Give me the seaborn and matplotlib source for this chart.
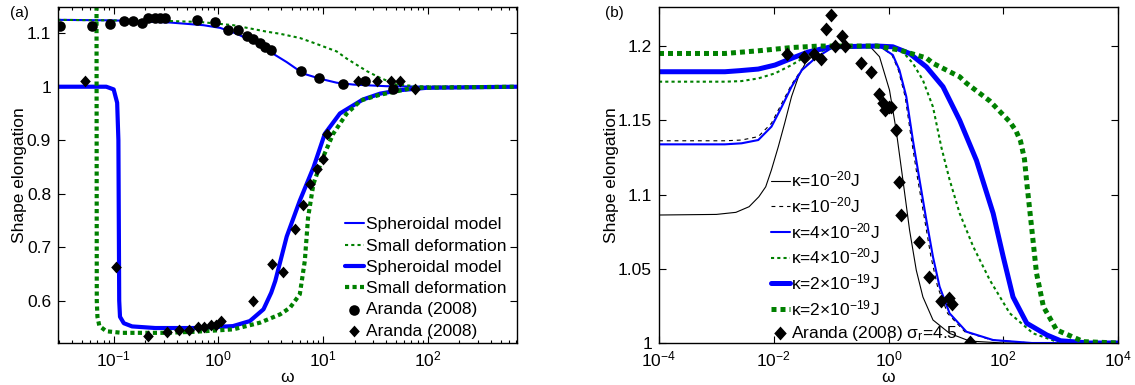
import matplotlib
matplotlib.use('Agg')
import matplotlib.pyplot as plt
import seaborn as sns
from matplotlib.ticker import FuncFormatter, NullLocator, LogLocator

# ---------------- panel (a) data ----------------
circ_w = [0.031, 0.062, 0.093, 0.125, 0.154, 0.185, 0.215, 0.248, 0.277, 0.31,
          0.62, 0.93, 1.25, 1.55, 1.87, 2.16, 2.5, 2.79, 3.16, 6.1, 9.2, 15.6, 25.0, 47.0]
circ_y = [1.113, 1.113, 1.117, 1.1225, 1.1225, 1.119, 1.129, 1.129, 1.129, 1.129,
          1.124, 1.121, 1.106, 1.106, 1.095, 1.090, 1.0825, 1.074, 1.068, 1.029, 1.017, 1.0044, 1.0106, 0.996]

diam_w = [0.0534, 0.105, 0.215, 0.321, 0.422, 0.528, 0.644, 0.734, 0.851, 0.95, 1.06,
          2.16, 3.24, 4.18, 5.45, 6.49, 7.51, 8.71, 9.93, 10.8, 21.8, 32.6, 44.5, 54.8, 75.6]
diam_y = [1.0106, 0.663, 0.534, 0.541, 0.5446, 0.545, 0.551, 0.551, 0.5545, 0.5545, 0.563,
          0.600, 0.668, 0.653, 0.735, 0.7795, 0.819, 0.846, 0.865, 0.912, 1.0106, 1.0106, 1.011, 1.011, 0.996]

sph_thin_w = [0.029, 0.1, 0.346, 0.72, 1.04, 1.5, 2.16, 3.13, 4.5, 6.49, 9.35, 13.5, 19.5, 40, 98]
sph_thin_y = [1.125, 1.124, 1.12, 1.115, 1.11, 1.099, 1.084, 1.065, 1.046, 1.0245, 1.015, 1.0075, 1.004, 1.001, 1.0]

sd_thin_w = [0.029, 0.316, 0.668, 1.39, 2.88, 3.88, 6.03, 8.13, 13.5, 17.0, 26.3, 34.7, 50.1, 85.1, 710]
sd_thin_y = [1.125, 1.123, 1.121, 1.115, 1.103, 1.099, 1.091, 1.082, 1.066, 1.052, 1.029, 1.017, 1.004, 1.0005, 1.0]

sph_thick_w = [0.029, 0.085, 0.10, 0.108, 0.111, 0.113, 0.115, 0.125, 0.15, 0.25, 0.6, 1.38, 2.0,
               2.7, 3.2, 3.5, 4.5, 6.0, 8.1, 10.4, 14.5, 24, 35, 54, 98, 710]
sph_thick_y = [1.0, 1.0, 0.995, 0.97, 0.9, 0.6, 0.57, 0.558, 0.552, 0.549, 0.549, 0.5526, 0.562,
               0.584, 0.615, 0.637, 0.72, 0.787, 0.849, 0.912, 0.95, 0.976, 0.987, 0.9935, 0.998, 1.0]

sd_thick_w = [0.0685, 0.069, 0.07, 0.073, 0.085, 0.12, 0.3, 0.6, 1.39, 2.5, 3.9, 4.84, 6.0, 6.7,
              7.2, 8.1, 9.7, 12.5, 16.8, 23, 35, 73, 710]
sd_thick_y = [1.3, 0.60, 0.57, 0.553, 0.543, 0.540, 0.540, 0.542, 0.5465, 0.559, 0.5746, 0.587, 0.612, 0.6745,
              0.7557, 0.8183, 0.862, 0.912, 0.9495, 0.9744, 0.985, 0.998, 1.0]

# ---------------- panel (b) data ----------------
k1_sph_w = [1e-4, 1e-3, 2.19e-3, 3.72e-3, 5.5e-3, 7.24e-3, 9.1e-3, 0.012, 0.0155, 0.0204, 0.0269,
            0.0355, 0.0525, 0.0794, 0.2, 0.468, 0.697, 1.04, 1.36, 1.78, 2.33, 3.05, 3.98, 5.96,
            11.6, 26, 100, 1e4]
k1_sph_y = [1.0862, 1.0866, 1.088, 1.0918, 1.0985, 1.1052, 1.1165, 1.1322, 1.148, 1.1659, 1.1793,
            1.1884, 1.195, 1.1985, 1.2, 1.2, 1.1928, 1.1704, 1.1434, 1.11, 1.076, 1.049, 1.031, 1.0155,
            1.0065, 1.0013, 1.0, 1.0]

k1_sd_w = [1e-4, 1.41e-3, 2.75e-3, 5.37e-3, 9.12e-3, 0.0138, 0.0204, 0.0309, 0.0525, 0.1, 0.697,
           1.15, 1.48, 1.95, 2.51, 3.24, 4.27, 5.5, 7.16, 10.7, 21.4, 63, 316, 1e4]
k1_sd_y = [1.1362, 1.1362, 1.1367, 1.139, 1.148, 1.1614, 1.174, 1.1845, 1.192, 1.1985, 1.2,
           1.194, 1.184, 1.166, 1.137, 1.11, 1.083, 1.058, 1.038, 1.02, 1.0076, 1.002, 1.0, 1.0]

k4_sph_w = [1e-4, 1.41e-3, 2.75e-3, 5.37e-3, 9.12e-3, 0.0138, 0.0204, 0.0309, 0.0525, 0.1, 0.697,
            1.19, 1.55, 2.04, 2.66, 3.47, 4.57, 5.96, 7.76, 11.6, 22.8, 66.7, 316, 1e4]
k4_sph_y = [1.1338, 1.1338, 1.1345, 1.1367, 1.1457, 1.1591, 1.1726, 1.1838, 1.1917, 1.1985, 1.2,
            1.194, 1.1838, 1.166, 1.1367, 1.11, 1.0828, 1.058, 1.038, 1.02, 1.0076, 1.002, 1.0, 1.0]

k4_sd_w = [1e-4, 1.41e-3, 2.75e-3, 5.37e-3, 0.0105, 0.0204, 0.0398, 0.1, 0.5, 1.19, 1.78, 2.66,
           3.98, 5.96, 8.32, 11.6, 17.4, 29.9, 58.3, 130, 331, 1000, 1e4]
k4_sd_y = [1.176, 1.176, 1.1764, 1.1782, 1.1816, 1.1872, 1.194, 1.1985, 1.2, 1.2, 1.196, 1.1884,
           1.177, 1.159, 1.132, 1.11, 1.0873, 1.065, 1.0424, 1.02, 1.0065, 1.0, 1.0]

k20_sph_w = [1e-4, 1.41e-3, 2.51e-3, 5.37e-3, 0.0105, 0.0204, 0.0398, 0.1, 0.631, 1.19, 2.33,
             4.57, 8.91, 17.4, 34.1, 66.7, 100, 148, 257, 575, 1000, 3162, 1e4]
k20_sph_y = [1.1827, 1.1827, 1.1834, 1.1845, 1.1872, 1.1917, 1.196, 1.1995, 1.2, 1.1995, 1.195,
             1.186, 1.1726, 1.15, 1.123, 1.0873, 1.058, 1.031, 1.0133, 1.0054, 1.0015, 1.0, 1.0]

k20_sd_w = [1e-4, 1.41e-3, 5.37e-3, 0.0204, 0.063, 0.631, 1.55, 4.57, 5.96, 17.4, 22.8, 58.3,
            130, 166, 200, 234, 257, 316, 380, 501, 851, 2512, 1e4]
k20_sd_y = [1.195, 1.195, 1.1968, 1.199, 1.2, 1.2, 1.1973, 1.192, 1.1884, 1.1793, 1.175, 1.163,
            1.149, 1.143, 1.136, 1.124, 1.108, 1.076, 1.047, 1.0245, 1.0088, 1.0009, 1.0]

ar_w = [0.0167, 0.0336, 0.0502, 0.0656, 0.0814, 0.100, 0.118, 0.155, 0.177, 0.333, 0.50, 0.672,
        0.795, 0.88, 1.04, 1.10, 1.36, 1.51, 1.67, 3.35, 5.07, 8.3, 11.3, 12.97, 26]
ar_y = [1.1946, 1.1928, 1.1946, 1.191, 1.2112, 1.2209, 1.2003, 1.2067, 1.2, 1.1888, 1.1825, 1.1678,
        1.1614, 1.157, 1.1591, 1.1591, 1.1434, 1.1086, 1.0862, 1.0682, 1.0444, 1.0285, 1.030, 1.0265, 1.0005]

legend_a = ['Spheroidal model', 'Small deformation', 'Spheroidal model', 'Small deformation',
            'Aranda (2008)', 'Aranda (2008)']
legend_b = ['κ=10$^{-20}$J', 'κ=10$^{-20}$J', 'κ=4×10$^{-20}$J', 'κ=4×10$^{-20}$J',
            'κ=2×10$^{-19}$J', 'κ=2×10$^{-19}$J', 'Aranda (2008) σ$_\\mathrm{r}$=4.5']

# ---------------- style ----------------
sns.set_theme(style='ticks')
plt.rcParams['font.family'] = ['Liberation Sans', 'DejaVu Sans']
plt.rcParams['mathtext.fontset'] = 'custom'
plt.rcParams['mathtext.rm'] = 'Liberation Sans'
plt.rcParams['mathtext.it'] = 'Liberation Sans:italic'
plt.rcParams['mathtext.bf'] = 'Liberation Sans:bold'
for k in ['text.color', 'axes.labelcolor', 'xtick.color', 'ytick.color', 'axes.edgecolor']:
    plt.rcParams[k] = 'black'
plt.rcParams['axes.linewidth'] = 1.0

BLUE = '#0000ff'
GREEN = '#008000'
diamond = [(0, 1), (0.9, 0), (0, -1), (-0.9, 0), (0, 1)]
FS = 12.5

fig = plt.figure(figsize=(11.35, 3.85), dpi=100)
ax1 = fig.add_axes([58 / 1135, 42 / 385, 459 / 1135, 336 / 385])
ax2 = fig.add_axes([659 / 1135, 42 / 385, 459 / 1135, 336 / 385])
for ax in (ax1, ax2):
    ax.set_xscale('log')


def line(ax, w, y, color, lw, ls, label):
    sns.lineplot(x=w, y=y, ax=ax, color=color, linewidth=lw, linestyle=ls,
                 estimator=None, sort=False, label=label)


# panel (a)
line(ax1, sph_thin_w, sph_thin_y, BLUE, 1.5, '-', legend_a[0])
line(ax1, sd_thin_w, sd_thin_y, GREEN, 1.5, (0, (1.5, 1.5)), legend_a[1])
line(ax1, sph_thick_w, sph_thick_y, BLUE, 3.0, '-', legend_a[2])
line(ax1, sd_thick_w, sd_thick_y, GREEN, 3.0, (0, (1.0, 0.8)), legend_a[3])
sns.scatterplot(x=circ_w, y=circ_y, ax=ax1, marker='o', s=58, color='black', linewidth=0,
                label=legend_a[4], zorder=5)
sns.scatterplot(x=diam_w, y=diam_y, ax=ax1, marker=diamond, s=72, color='black', linewidth=0,
                label=legend_a[5], zorder=5)

# panel (b)
line(ax2, k1_sph_w, k1_sph_y, 'black', 0.8, '-', legend_b[0])
line(ax2, k1_sd_w, k1_sd_y, 'black', 0.8, (0, (3.5, 3.5)), legend_b[1])
line(ax2, k4_sph_w, k4_sph_y, BLUE, 1.5, '-', legend_b[2])
line(ax2, k4_sd_w, k4_sd_y, GREEN, 1.5, (0, (1.5, 1.5)), legend_b[3])
line(ax2, k20_sph_w, k20_sph_y, BLUE, 3.6, '-', legend_b[4])
line(ax2, k20_sd_w, k20_sd_y, GREEN, 3.6, (0, (1.0, 0.8)), legend_b[5])
sns.scatterplot(x=ar_w, y=ar_y, ax=ax2, marker=diamond, s=100, color='black', linewidth=0,
                label=legend_b[6], zorder=5)

# axes formatting
g = FuncFormatter(lambda v, p: '%g' % v)
ax1.set_xlim(0.0294, 713)
ax1.set_ylim(0.521, 1.149)
ax1.set_yticks([0.6, 0.7, 0.8, 0.9, 1.0, 1.1])
ax1.xaxis.set_major_locator(LogLocator(base=10, numticks=10))
ax2.set_xlim(1e-4, 1e4)
ax2.set_ylim(1.0, 1.2263)
ax2.set_xticks([1e-4, 1e-2, 1, 1e2, 1e4])
ax2.xaxis.set_minor_locator(NullLocator())
ax2.set_yticks([1.0, 1.05, 1.1, 1.15, 1.2])

for ax in (ax1, ax2):
    ax.yaxis.set_major_formatter(g)
    ax.tick_params(which='both', direction='in', top=True, right=True, bottom=True, left=True,
                   labelsize=FS, width=0.8, color='black')
    ax.tick_params(which='major', length=5, pad=5)
    ax.tick_params(which='minor', length=2.5)
    ax.set_xlabel('ω', fontsize=FS, labelpad=0)
    ax.set_ylabel('Shape elongation', fontsize=FS, labelpad=-0.5)
    for s in ax.spines.values():
        s.set_visible(True)

h, l = ax1.get_legend_handles_labels()
ax1.legend(h, l, loc='upper left', bbox_to_anchor=(0.625, 0.374), frameon=False, fontsize=FS,
           handlelength=1.1, handletextpad=0.1, labelspacing=0.35, borderpad=0, borderaxespad=0)
h, l = ax2.get_legend_handles_labels()
ax2.legend(h, l, loc='upper left', bbox_to_anchor=(0.243, 0.515), frameon=False, fontsize=FS,
           handlelength=1.1, handletextpad=0.1, labelspacing=0.33, borderpad=0, borderaxespad=0)

fig.text(10 / 1135, 1 - 13 / 385, '(a)', fontsize=11, va='center')
fig.text(605 / 1135, 1 - 13 / 385, '(b)', fontsize=11, va='center')

fig.savefig('out.png', dpi=100)
